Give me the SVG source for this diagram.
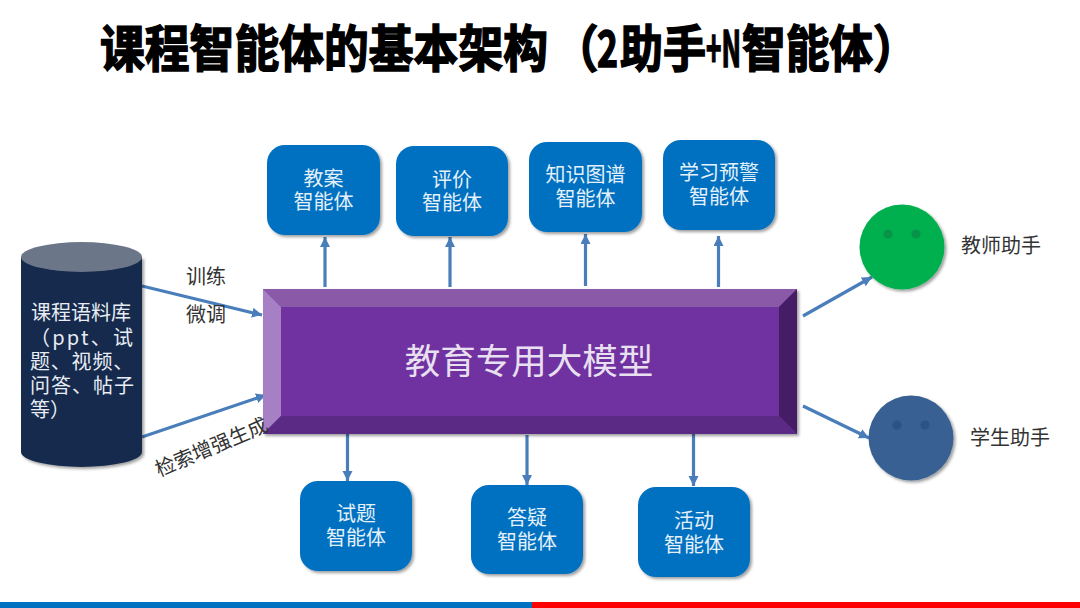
<svg xmlns="http://www.w3.org/2000/svg" width="1080" height="608" viewBox="0 0 1080 608">
<style>
text{font-family:"Noto Sans CJK SC","Noto Sans",sans-serif}
.agent{fill:#0070c0;filter:url(#sh)}
.at{fill:#e4f1fb;font-size:20px;text-anchor:middle}
.lb{fill:#333;font-size:20px}
.cl{fill:#e8edf4;font-size:20px}
.ttl{fill:#000;font-size:45px;font-weight:700;stroke:#000;stroke-width:1.4px}
.hw{font-feature-settings:"halt"}
.c{fill:none;stroke:#4a7ebb;stroke-width:3.2px;marker-end:url(#ah)}
.eye{opacity:.75}
</style>
<defs>
<filter id="sh" x="-10%" y="-10%" width="125%" height="125%"><feDropShadow dx="2" dy="2" stdDeviation="1.6" flood-color="#000" flood-opacity=".38"/></filter>
<marker id="ah" markerUnits="userSpaceOnUse" markerWidth="11" markerHeight="11" refX="10" refY="5" orient="auto"><path d="M0 0L10 5L0 10Z" fill="#4a7ebb"/></marker>
</defs>
<rect width="1080" height="608" fill="#fff"/>
<g id="title" transform="translate(0 67) scale(1 1.12)"><text class="ttl" y="0" x="100" textLength="448" lengthAdjust="spacingAndGlyphs">课程智能体的基本架构</text><text class="ttl hw" y="0" x="576">（</text><text class="ttl" y="0" x="597" textLength="21" lengthAdjust="spacingAndGlyphs">2</text><text class="ttl" y="0" x="620" textLength="86" lengthAdjust="spacingAndGlyphs">助手</text><text class="ttl" y="0" x="706" textLength="35" lengthAdjust="spacingAndGlyphs">+N</text><text class="ttl" y="0" x="742" textLength="131" lengthAdjust="spacingAndGlyphs">智能体</text><text class="ttl hw" y="0" x="873">）</text></g>
<g id="connectors">
<path class="c" d="M142 286L262 315"/>
<path class="c" d="M142 437L266 395"/>
<path class="c" d="M325 287V237"/>
<path class="c" d="M450 287V237"/>
<path class="c" d="M585.500 286V234"/>
<path class="c" d="M718.500 287V236"/>
<path class="c" d="M347.500 432V481"/>
<path class="c" d="M527 435V485"/>
<path class="c" d="M693.500 434V486"/>
<path class="c" d="M803 316L872 277"/>
<path class="c" d="M803 406L869 438"/>
</g>
<g id="corpus">
<path d="M21 257V452A60.500 15 0 0 0 142 452V257Z" fill="#172b4d" filter="url(#sh)"/>
<ellipse cx="81.500" cy="257" rx="60.500" ry="15" fill="#6b7689"/>
<text class="cl"><tspan x="31" y="320">课程语料库</tspan><tspan x="30" y="345" letter-spacing="2.200">（ppt、试</tspan><tspan x="30" y="369" letter-spacing=".8">题、视频、</tspan><tspan x="30" y="393" letter-spacing="1">问答、帖子</tspan><tspan x="30" y="417">等）</tspan></text>
</g>
<g id="model">
<rect x="263" y="289" width="534" height="145" fill="#7030a0" filter="url(#sh)"/>
<path d="M263 289H797L779 307H281Z" fill="#8a5aa8"/>
<path d="M263 289L281 307V416L263 434Z" fill="#a67fc4"/>
<path d="M797 289L779 307V416L797 434Z" fill="#451d66"/>
<path d="M263 434L281 416H779L797 434Z" fill="#5a2a84"/>
<text x="529" y="374" font-size="35.500" fill="#e8e0f0" text-anchor="middle">教育专用大模型</text>
</g>
<g id="agent-jiaoan"><rect class="agent" x="267" y="145" width="113" height="90" rx="18"/><text class="at"><tspan x="323.500" y="186">教案</tspan><tspan x="323.500" y="209">智能体</tspan></text></g>
<g id="agent-pingjia"><rect class="agent" x="396" y="146" width="112" height="90" rx="18"/><text class="at"><tspan x="452" y="187">评价</tspan><tspan x="452" y="210">智能体</tspan></text></g>
<g id="agent-tupu"><rect class="agent" x="529" y="142" width="113" height="90" rx="18"/><text class="at"><tspan x="585.500" y="182">知识图谱</tspan><tspan x="585.500" y="206">智能体</tspan></text></g>
<g id="agent-yujing"><rect class="agent" x="663" y="140" width="112" height="90" rx="18"/><text class="at"><tspan x="719" y="180">学习预警</tspan><tspan x="719" y="204">智能体</tspan></text></g>
<g id="agent-shiti"><rect class="agent" x="300" y="481" width="112" height="90" rx="18"/><text class="at"><tspan x="356" y="521">试题</tspan><tspan x="356" y="545">智能体</tspan></text></g>
<g id="agent-dayi"><rect class="agent" x="471" y="485" width="112" height="89" rx="18"/><text class="at"><tspan x="527" y="525">答疑</tspan><tspan x="527" y="549">智能体</tspan></text></g>
<g id="agent-huodong"><rect class="agent" x="638" y="487" width="112" height="90" rx="18"/><text class="at"><tspan x="694" y="528">活动</tspan><tspan x="694" y="552">智能体</tspan></text></g>
<g id="teacher"><circle cx="902" cy="247" r="42.500" fill="#00b050" filter="url(#sh)"/><circle class="eye" cx="888" cy="234" r="4.500" fill="#0a8a45"/><circle class="eye" cx="916" cy="234" r="4.500" fill="#0a8a45"/><text class="lb" x="961" y="253">教师助手</text></g>
<g id="student"><circle cx="911" cy="438" r="42.500" fill="#376092" filter="url(#sh)"/><circle class="eye" cx="897" cy="425" r="4.500" fill="#24507f"/><circle class="eye" cx="925" cy="425" r="4.500" fill="#24507f"/><text class="lb" x="970" y="445">学生助手</text></g>
<g id="labels">
<text class="lb" x="186" y="284">训练</text>
<text class="lb" x="186" y="322">微调</text>
<text class="lb" transform="translate(159 477) rotate(-23)" x="0" y="0">检索增强生成</text>
</g>
<g id="footer"><rect y="602" width="532" height="6" fill="#0070c0"/><rect x="532" y="602" width="548" height="6" fill="#f00"/></g>
</svg>
